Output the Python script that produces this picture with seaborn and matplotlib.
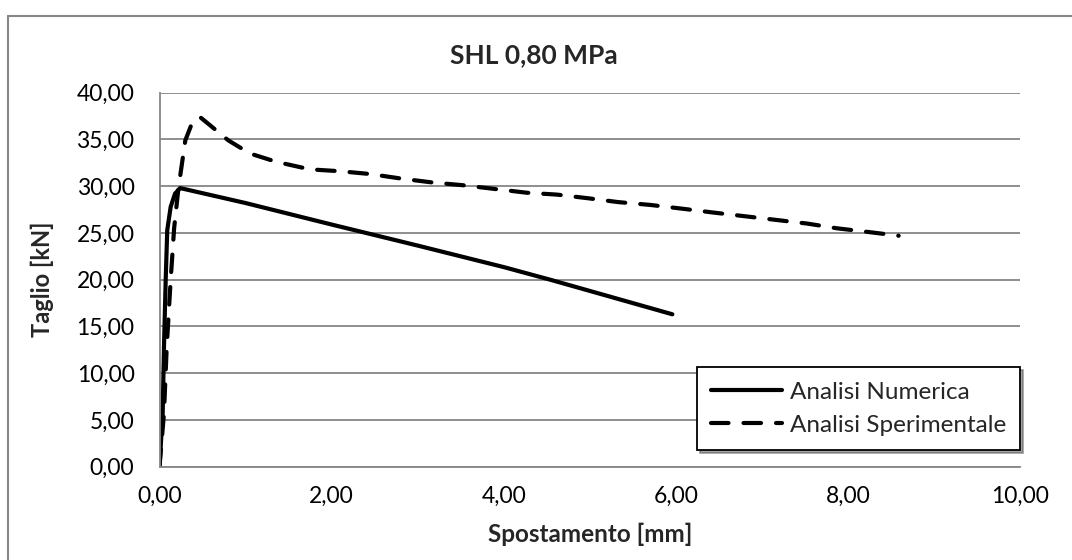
import matplotlib
matplotlib.use("Agg")
import matplotlib.pyplot as plt
from matplotlib.ticker import FuncFormatter, MultipleLocator
from matplotlib.lines import Line2D
import seaborn as sns
import pandas as pd

num_x = [0.0, 0.037, 0.052, 0.072, 0.09, 0.13, 0.18, 0.24, 1.0, 2.0, 3.0, 4.0, 4.54, 5.96]
num_y = [0.0, 5.7, 12.8, 20.0, 25.3, 27.8, 29.2, 29.8, 28.2, 25.9, 23.65, 21.35, 20.0, 16.3]

exp_x = [0.0, 0.052, 0.084, 0.13, 0.17, 0.22, 0.30, 0.38, 0.47, 0.55, 0.80, 1.05, 1.36, 1.75,
         2.10, 2.45, 2.82, 3.17, 3.53, 3.90, 4.27, 4.62, 4.99, 5.33, 5.70, 6.07, 6.42, 6.79,
         7.16, 7.53, 7.87, 8.24, 8.59]
exp_y = [0.0, 5.7, 12.8, 20.0, 25.5, 29.8, 34.9, 36.8, 37.4, 36.8, 34.9, 33.5, 32.6, 31.8,
         31.6, 31.3, 30.8, 30.4, 30.1, 29.7, 29.3, 29.1, 28.7, 28.3, 28.0, 27.6, 27.2, 26.8,
         26.4, 26.0, 25.5, 25.1, 24.7]

title = "SHL 0,80 MPa"
xlabel = "Spostamento [mm]"
ylabel = "Taglio [kN]"
labels = ["Analisi Numerica", "Analisi Sperimentale"]

sns.set_theme(style="white")
plt.rcParams['font.family'] = ['Lato', 'DejaVu Sans']

fig = plt.figure(figsize=(10.72, 5.6), dpi=100)
ax = fig.add_axes([159.5/1072, 1-466.7/560, (1020-159.5)/1072, (466.7-92.7)/560])

df_num = pd.DataFrame({"x": num_x, "y": num_y})
df_exp = pd.DataFrame({"x": exp_x, "y": exp_y})

lw = 3.0
sns.lineplot(data=df_num, x="x", y="y", ax=ax, color="black", lw=lw, sort=False,
             estimator=None, solid_capstyle="round", solid_joinstyle="round")
sns.lineplot(data=df_exp, x="x", y="y", ax=ax, color="black", lw=lw, sort=False,
             estimator=None)
ln = ax.lines[-1]
ln.set_dashes([4.2, 3.6])
ln.set_dash_capstyle("round")

ax.set_xlim(0, 10)
ax.set_ylim(0, 40)
ax.xaxis.set_major_locator(MultipleLocator(2))
ax.yaxis.set_major_locator(MultipleLocator(5))
fmt = FuncFormatter(lambda v, p: f"{v:.2f}".replace(".", ","))
ax.xaxis.set_major_formatter(fmt)
ax.yaxis.set_major_formatter(fmt)
ax.grid(axis="y", color="#868686", lw=1.3)
ax.grid(axis="x", visible=False)
for s in ["top", "right"]:
    ax.spines[s].set_visible(False)
ax.spines["left"].set_color("#868686")
ax.spines["left"].set_linewidth(1.3)
ax.spines["bottom"].set_color("#868686")
ax.spines["bottom"].set_linewidth(1.3)
ax.tick_params(axis="both", labelsize=16.5, colors="black", length=0)
ax.tick_params(axis="x", pad=14)
ax.tick_params(axis="y", pad=18)
ax.set_axisbelow(True)

ax.set_xlabel(xlabel, fontsize=17.5, fontweight="bold", labelpad=11)
ax.set_ylabel(ylabel, fontsize=17, fontweight="bold", labelpad=16)
fig.text(534/1072, 1-55/560, title, ha="center", va="center", fontsize=19, fontweight="bold")

handles = [Line2D([], [], color="black", lw=lw),
           Line2D([], [], color="black", lw=lw, dashes=[4.2, 3.6], dash_capstyle="round")]
leg = ax.legend(handles, labels, loc="lower right", bbox_to_anchor=(1.0, 0.045),
                fontsize=17.5, frameon=True, fancybox=False, shadow=True,
                handlelength=2.9, handletextpad=0.33, borderpad=0.58, labelspacing=0.5,
                borderaxespad=0)
leg.get_frame().set_edgecolor("black")
leg.get_frame().set_linewidth(1.3)

# chart-area border (top and left visible)
fig.add_artist(Line2D([8/1072, 1], [1-16/560, 1-16/560], color="#868686", lw=1.5, transform=fig.transFigure))
fig.add_artist(Line2D([8/1072, 8/1072], [0, 1-16/560], color="#868686", lw=1.5, transform=fig.transFigure))

fig.savefig("out.png", dpi=100)
